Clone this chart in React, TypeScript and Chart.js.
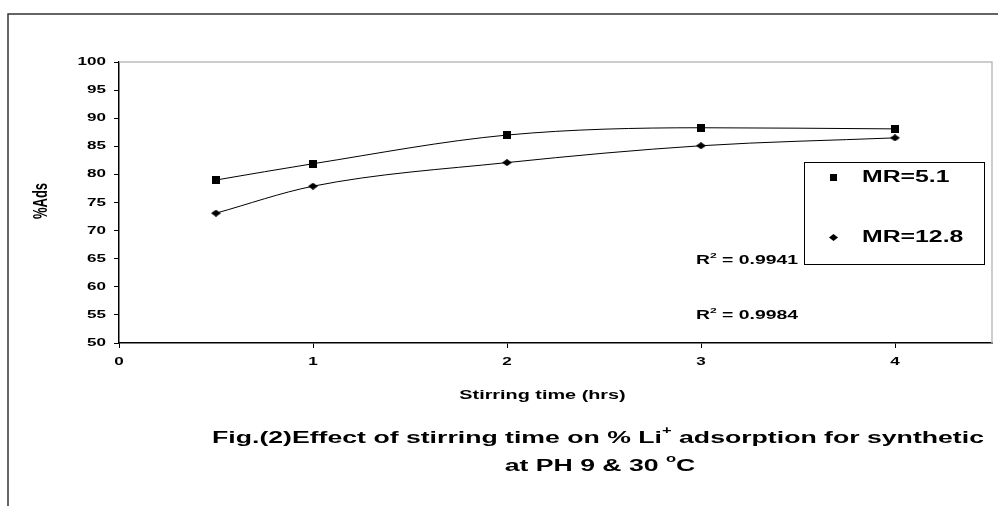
import React, { useEffect, useRef } from "react";
import { Chart, registerables } from "chart.js";

Chart.register(...registerables);

// ---- data ----
const stirringTime = [0.5, 1, 2, 3, 4];
const adsMR51 = [79.0, 81.9, 87.0, 88.3, 88.1];
const adsMR128 = [73.1, 77.9, 82.1, 85.1, 86.5];
const seriesNames = ["MR=5.1", "MR=12.8"];
const r2Values = ["0.9941", "0.9984"];
const xTickValues = [0, 1, 2, 3, 4];
const yTickValues = [50, 55, 60, 65, 70, 75, 80, 85, 90, 95, 100];
const xTitle = "Stirring time (hrs)";
const yTitle = "%Ads";

const FONT = '"Liberation Sans", Arial, sans-serif';
const SX = 1.55; // horizontal stretch of the reference's lettering

type Part = { t: string; sup?: boolean };

function partsWidth(ctx: CanvasRenderingContext2D, parts: Part[], size: number) {
  let w = 0;
  for (const p of parts) {
    ctx.font = `bold ${p.sup ? size * 0.62 : size}px ${FONT}`;
    w += ctx.measureText(p.t).width;
  }
  return w;
}

function drawParts(
  ctx: CanvasRenderingContext2D,
  parts: Part[],
  x: number,
  y: number,
  size: number,
  align: "left" | "center" | "right",
  sx = SX
) {
  const w = partsWidth(ctx, parts, size) * sx;
  let start = x;
  if (align === "center") start = x - w / 2;
  if (align === "right") start = x - w;
  ctx.save();
  ctx.translate(start, y);
  ctx.scale(sx, 1);
  ctx.fillStyle = "#000";
  ctx.textBaseline = "middle";
  ctx.textAlign = "left";
  let cx = 0;
  for (const p of parts) {
    const s = p.sup ? size * 0.62 : size;
    ctx.font = `bold ${s}px ${FONT}`;
    ctx.fillText(p.t, cx, p.sup ? -size * 0.38 : 0);
    cx += ctx.measureText(p.t).width;
  }
  ctx.restore();
}

function makeSquare(side: number) {
  const c = document.createElement("canvas");
  c.width = side;
  c.height = side;
  const g = c.getContext("2d")!;
  g.fillStyle = "#000";
  g.fillRect(0, 0, side, side);
  return c;
}

function makeDiamond(w: number, h: number) {
  const c = document.createElement("canvas");
  c.width = w;
  c.height = h;
  const g = c.getContext("2d")!;
  g.fillStyle = "#000";
  g.beginPath();
  g.moveTo(w / 2, 0);
  g.lineTo(w, h / 2);
  g.lineTo(w / 2, h);
  g.lineTo(0, h / 2);
  g.closePath();
  g.fill();
  return c;
}

const decorPlugin = {
  id: "decor",
  afterDraw(chart: any) {
    const ctx: CanvasRenderingContext2D = chart.ctx;
    const ca = chart.chartArea;
    const xs = chart.scales.x;
    const ys = chart.scales.y;

    // outer frame
    ctx.save();
    ctx.strokeStyle = "#333";
    ctx.lineWidth = 1.5;
    ctx.beginPath();
    ctx.moveTo(8, 506);
    ctx.lineTo(8, 14);
    ctx.lineTo(998, 14);
    ctx.stroke();

    // gray plot border top/right
    ctx.strokeStyle = "#bdbdbd";
    ctx.lineWidth = 1.5;
    ctx.beginPath();
    ctx.moveTo(ca.left, ca.top);
    ctx.lineTo(ca.right, ca.top);
    ctx.lineTo(ca.right, ca.bottom);
    ctx.stroke();
    ctx.restore();

    // tick labels
    for (const v of yTickValues) {
      drawParts(ctx, [{ t: String(v) }], ca.left - 13, ys.getPixelForValue(v), 11, "right");
    }
    for (const v of xTickValues) {
      drawParts(ctx, [{ t: String(v) }], xs.getPixelForValue(v), ca.bottom + 19, 11, "center");
    }

    // axis titles
    drawParts(ctx, [{ t: xTitle }], (ca.left + ca.right) / 2 - 13, ca.bottom + 52, 12.8, "center");
    ctx.save();
    ctx.translate(41, 201);
    ctx.scale(SX, 1);
    ctx.rotate(-Math.PI / 2);
    ctx.font = `bold 13px ${FONT}`;
    ctx.fillStyle = "#000";
    ctx.textAlign = "center";
    ctx.textBaseline = "middle";
    ctx.fillText(yTitle, 0, 0);
    ctx.restore();

    // R² labels
    drawParts(ctx, [{ t: "R" }, { t: "2", sup: true }, { t: " = " + r2Values[0] }], 696, 261, 12.5, "left");
    drawParts(ctx, [{ t: "R" }, { t: "2", sup: true }, { t: " = " + r2Values[1] }], 696, 316, 12.5, "left");

    // legend
    ctx.save();
    ctx.fillStyle = "#fff";
    ctx.strokeStyle = "#000";
    ctx.lineWidth = 1;
    ctx.fillRect(804.5, 162.5, 180, 102);
    ctx.strokeRect(804.5, 162.5, 180, 102);
    ctx.fillStyle = "#000";
    ctx.fillRect(830, 174, 7, 7);
    ctx.beginPath();
    ctx.moveTo(833.5, 234);
    ctx.lineTo(838, 237.5);
    ctx.lineTo(833.5, 241);
    ctx.lineTo(829, 237.5);
    ctx.closePath();
    ctx.fill();
    ctx.restore();
    drawParts(ctx, [{ t: seriesNames[0] }], 862, 178, 16, "left");
    drawParts(ctx, [{ t: seriesNames[1] }], 862, 238, 16, "left");

    // caption
    drawParts(
      ctx,
      [
        { t: "Fig.(2)Effect of stirring time on % Li" },
        { t: "+", sup: true },
        { t: " adsorption for synthetic" },
      ],
      598,
      438,
      17.2,
      "center"
    );
    drawParts(
      ctx,
      [{ t: "at PH 9 & 30 " }, { t: "o", sup: true }, { t: "C" }],
      600,
      466,
      17.2,
      "center"
    );
  },
};

export default function App() {
  const ref = useRef<HTMLCanvasElement | null>(null);

  useEffect(() => {
    if (!ref.current) return;
    const square = makeSquare(8);
    const diamond = makeDiamond(10, 7);
    const chart = new Chart(ref.current, {
      type: "line",
      data: {
        datasets: [
          {
            label: seriesNames[0],
            data: stirringTime.map((x, i) => ({ x, y: adsMR51[i] })),
            borderColor: "#000",
            borderWidth: 1,
            cubicInterpolationMode: "monotone",
            pointStyle: square as any,
            pointRadius: 5,
            backgroundColor: "#000",
          },
          {
            label: seriesNames[1],
            data: stirringTime.map((x, i) => ({ x, y: adsMR128[i] })),
            borderColor: "#000",
            borderWidth: 1,
            cubicInterpolationMode: "monotone",
            pointStyle: diamond as any,
            pointRadius: 5,
            backgroundColor: "#000",
          },
        ],
      },
      options: {
        responsive: false,
        animation: false,
        layout: { padding: { top: 62, right: 2, left: 0, bottom: 0 } },
        plugins: { legend: { display: false }, tooltip: { enabled: false } },
        scales: {
          x: {
            type: "linear",
            min: 0,
            max: 4.5,
            ticks: { stepSize: 1, display: false },
            afterBuildTicks: (s: any) => {
              s.ticks = xTickValues.map((v) => ({ value: v }));
            },
            afterFit: (s: any) => {
              s.height = 163;
            },
            grid: {
              drawOnChartArea: false,
              drawTicks: true,
              tickLength: 5,
              color: "#000",
              lineWidth: 1,
            },
            border: { color: "#000", width: 1.5 },
          },
          y: {
            type: "linear",
            min: 50,
            max: 100,
            ticks: { stepSize: 5, display: false },
            afterBuildTicks: (s: any) => {
              s.ticks = yTickValues.map((v) => ({ value: v }));
            },
            afterFit: (s: any) => {
              s.width = 119;
            },
            grid: {
              drawOnChartArea: false,
              drawTicks: true,
              tickLength: 5,
              color: "#000",
              lineWidth: 1,
            },
            border: { color: "#000", width: 1.5 },
          },
        },
      },
      plugins: [decorPlugin],
    });
    return () => chart.destroy();
  }, []);

  return (
    <div style={{ position: "absolute", left: 0, top: 0, width: 998, height: 506, background: "#fff" }}>
      <canvas ref={ref} width={998} height={506} style={{ width: 998, height: 506, display: "block" }} />
    </div>
  );
}
